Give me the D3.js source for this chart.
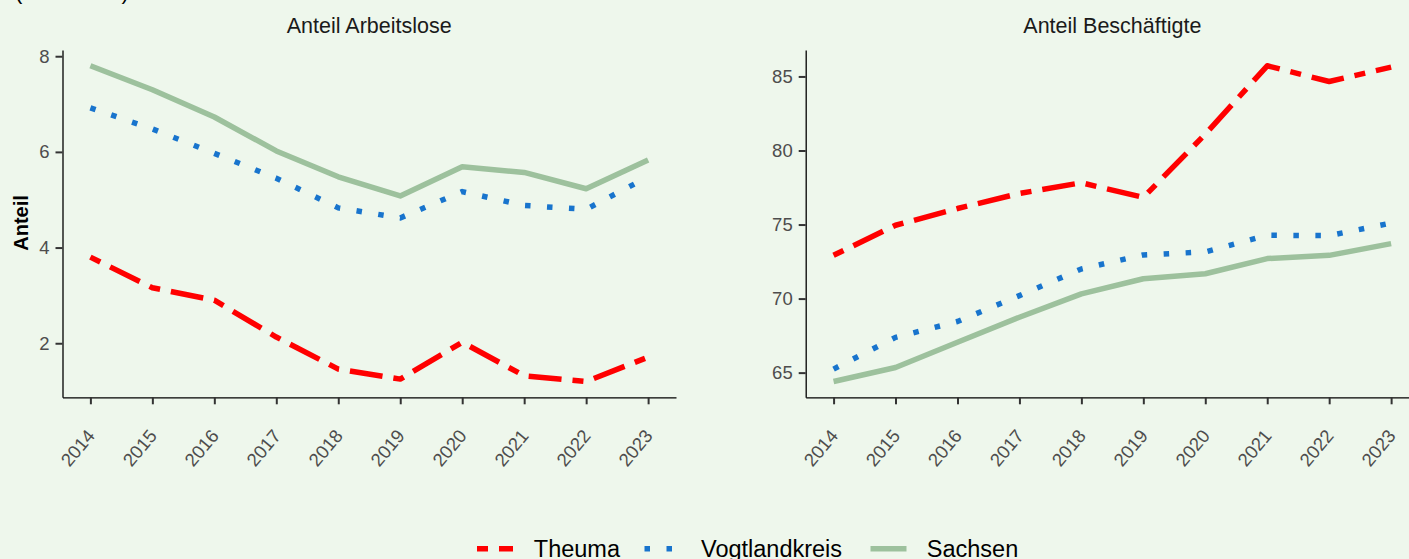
<!DOCTYPE html>
<html><head><meta charset="utf-8">
<script src="https://cdn.jsdelivr.net/npm/d3@7"></script>
<style>
html,body{margin:0;padding:0;background:#EEF7EC;}
svg{display:block;font-family:"Liberation Sans",Arial,sans-serif;}
</style></head>
<body>
<svg id="chart" width="1409" height="559"></svg>
<script>
const years = [2014,2015,2016,2017,2018,2019,2020,2021,2022,2023];
const seriesNames = ["Theuma","Vogtlandkreis","Sachsen"];
const panelTitles = ["Anteil Arbeitslose","Anteil Beschäftigte"];
const arbeitsloseTheuma   = [3.80,3.16,2.90,2.13,1.46,1.25,2.02,1.32,1.20,1.71];
const arbeitsloseVogtland = [6.92,6.48,5.97,5.45,4.83,4.62,5.17,4.88,4.80,5.48];
const arbeitsloseSachsen  = [7.80,7.30,6.73,6.02,5.48,5.08,5.69,5.57,5.23,5.83];
const beschTheuma   = [72.92,74.95,76.08,77.10,77.82,76.83,81.10,85.72,84.66,85.63];
const beschVogtland = [65.24,67.38,68.45,70.20,72.00,72.95,73.15,74.28,74.25,75.10];
const beschSachsen  = [64.40,65.35,67.05,68.74,70.32,71.34,71.68,72.70,72.92,73.71];
const ticksLeft  = [2,4,6,8];
const ticksRight = [65,70,75,80,85];

const colors = {Theuma:"#FF0000", Vogtlandkreis:"#1874CD", Sachsen:"#9DC19D"};
const LW = 5.5;
const dashes = {Theuma:`${2*LW} ${2*LW} ${6*LW} ${2*LW}`, Vogtlandkreis:`${LW} ${3*LW}`, Sachsen:null};

const svg = d3.select("#chart");
svg.append("rect").attr("width",1409).attr("height",559).attr("fill","#EEF7EC");

svg.append("text").attr("x",15).attr("y",-1).attr("font-size",22).attr("fill","#000").text("(in Prozent)");

const panels = [
  {title:panelTitles[0], data:[arbeitsloseTheuma,arbeitsloseVogtland,arbeitsloseSachsen], ticks:ticksLeft, x0:62.5, x1:676},
  {title:panelTitles[1], data:[beschTheuma,beschVogtland,beschSachsen], ticks:ticksRight, x0:805.7, x1:1419}
];
const yTop = 50, yBot = 397.3;

panels.forEach(p=>{
  const g = svg.append("g");
  const xs = d3.scaleLinear().domain([years[0]-0.45, years[years.length-1]+0.45]).range([p.x0,p.x1]);
  const all = p.data.flat();
  const mn = d3.min(all), mx = d3.max(all), ex = (mx-mn)*0.05;
  const ys = d3.scaleLinear().domain([mn-ex, mx+ex]).range([yBot,yTop]);

  const line = d3.line().x((d,i)=>xs(years[i])).y(d=>ys(d));
  [2,1,0].forEach(si=>{
    const name = seriesNames[si];
    g.append("path").datum(p.data[si]).attr("d",line)
      .attr("fill","none").attr("stroke",colors[name]).attr("stroke-width",LW)
      .attr("stroke-linecap","butt").attr("stroke-linejoin","round")
      .attr("stroke-dasharray",dashes[name]);
  });

  const xAxis = d3.axisBottom(xs).tickValues(years).tickFormat(d3.format("d")).tickSize(7).tickSizeOuter(0);
  const gx = g.append("g").attr("transform",`translate(0,${yBot})`).call(xAxis);
  gx.select(".domain").attr("stroke","#000").attr("stroke-width",1.3);
  gx.selectAll(".tick line").attr("stroke","#333").attr("stroke-width",2);
  gx.selectAll(".tick text").attr("font-size",18.5).attr("fill","#4D4D4D")
    .attr("font-family","Liberation Sans, Arial, sans-serif")
    .attr("text-anchor","end").attr("dy",null).attr("y",0).attr("x",0)
    .attr("transform","translate(5,39) rotate(-50)");

  const yAxis = d3.axisLeft(ys).tickValues(p.ticks).tickSize(7).tickSizeOuter(0).tickPadding(6);
  const gy = g.append("g").attr("transform",`translate(${p.x0},0)`).call(yAxis);
  gy.select(".domain").attr("stroke","#000").attr("stroke-width",1.3);
  gy.selectAll(".tick line").attr("stroke","#333").attr("stroke-width",2);
  gy.selectAll(".tick text").attr("font-size",18.5).attr("fill","#4D4D4D")
    .attr("font-family","Liberation Sans, Arial, sans-serif");

  g.append("text").attr("x",(p.x0+p.x1)/2).attr("y",33).attr("text-anchor","middle")
    .attr("font-size",21.5).attr("fill","#1A1A1A").text(p.title);
});

svg.append("text").attr("transform","translate(27.5,223) rotate(-90)").attr("text-anchor","middle")
  .attr("font-size",20).attr("font-weight","bold").attr("fill","#000").text("Anteil");

const legY = 548.7;
const legendItems = [
  {name:"Theuma", kx:477, tx:533.8},
  {name:"Vogtlandkreis", kx:644.5, tx:701},
  {name:"Sachsen", kx:870.5, tx:926.8}
];
const lg = svg.append("g");
legendItems.forEach(it=>{
  lg.append("line").attr("x1",it.kx).attr("x2",it.kx+36).attr("y1",legY).attr("y2",legY)
    .attr("stroke",colors[it.name]).attr("stroke-width",LW).attr("stroke-linecap","butt")
    .attr("stroke-dasharray",dashes[it.name]);
  lg.append("text").attr("x",it.tx).attr("y",legY+8).attr("font-size",23.5).attr("fill","#000").text(it.name);
});
</script>
</body></html>
